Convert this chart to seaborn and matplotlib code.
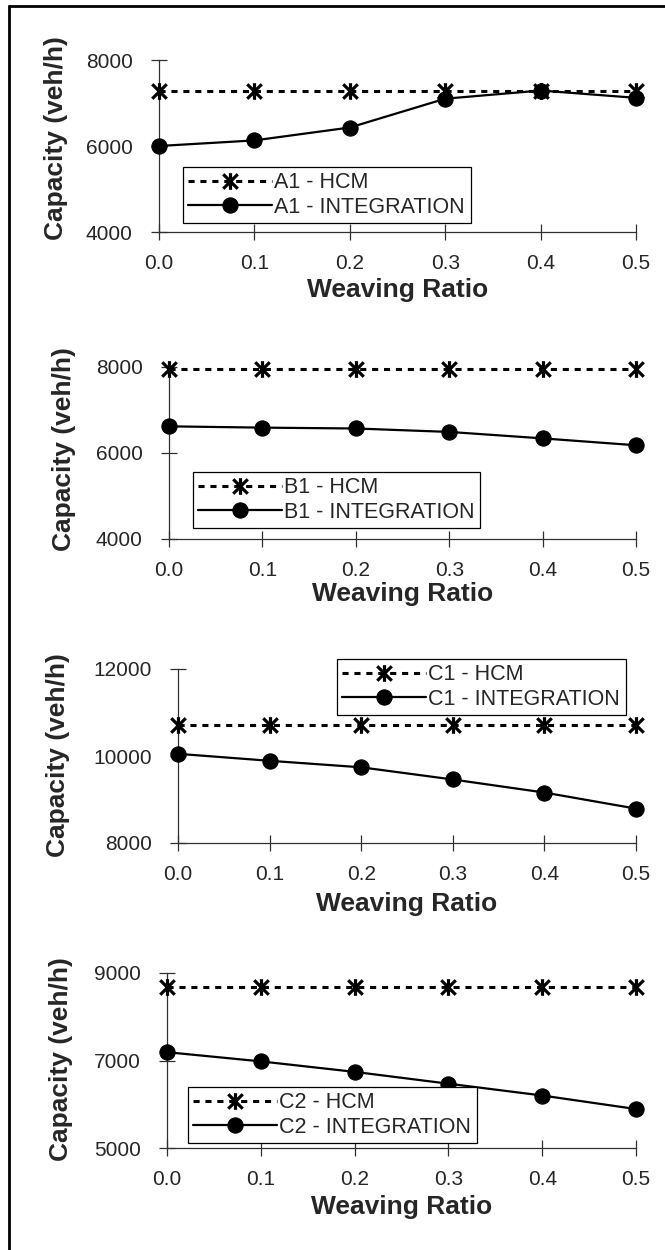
import matplotlib
matplotlib.use("Agg")
import matplotlib.pyplot as plt
from matplotlib.lines import Line2D
from matplotlib.path import Path
import seaborn as sns
import pandas as pd

# Weaving ratio on the x axis (shared by all four sections)
ratio = [0.0, 0.1, 0.2, 0.3, 0.4, 0.5]

# Capacity (veh/h) per weaving section: HCM estimate vs INTEGRATION simulation
a1_hcm = [7290, 7290, 7290, 7290, 7290, 7290]
a1_int = [6000, 6130, 6430, 7100, 7290, 7120]
b1_hcm = [7950, 7950, 7950, 7950, 7950, 7950]
b1_int = [6620, 6590, 6570, 6490, 6340, 6180]
c1_hcm = [10720, 10720, 10720, 10720, 10720, 10720]
c1_int = [10050, 9890, 9740, 9460, 9160, 8790]
c2_hcm = [8680, 8680, 8680, 8680, 8680, 8680]
c2_int = [7190, 6980, 6740, 6470, 6200, 5890]

sections = ["A1", "B1", "C1", "C2"]
hcm_series = [a1_hcm, b1_hcm, c1_hcm, c2_hcm]
int_series = [a1_int, b1_int, c1_int, c2_int]
y_limits = [(4000, 8000), (4000, 8000), (8000, 12000), (5000, 9000)]
y_ticks = [[4000, 6000, 8000], [4000, 6000, 8000], [8000, 10000, 12000], [5000, 7000, 9000]]
x_ticks = [0.0, 0.1, 0.2, 0.3, 0.4, 0.5]
x_ticklabels = ["0.0", "0.1", "0.2", "0.3", "0.4", "0.5"]

sns.set_style("white")
plt.rcParams["font.family"] = ["Liberation Sans", "DejaVu Sans"]

W, H = 665, 1250
fig = plt.figure(figsize=(W / 100, H / 100), dpi=100)

# panel boxes in pixels: left, right, top, bottom
boxes = [(159, 636, 60, 232), (169, 636, 367, 539), (178, 636, 669, 843), (167, 636, 973, 1148)]
# legend upper-left corners in pixels
legend_pos = [(183, 167), (193, 472), (337, 659), (188, 1087)]
# y-label right edge / centre, x-label top (pixels)
ylab_x = [68, 76, 70, 73]
ylab_y = [138, 449, 755, 1059]
xlab_y = [278, 582, 892, 1195]

DASH = (0, (2.0, 1.9))

# spreadsheet-style star: an X crossed by a vertical bar
STAR = Path([(-1, -1), (1, 1), (-1, 1), (1, -1), (0, -1.15), (0, 1.15)],
            [Path.MOVETO, Path.LINETO, Path.MOVETO, Path.LINETO, Path.MOVETO, Path.LINETO])


def fx(px):
    return px / W


def fy(py):
    return 1 - py / H


for i, name in enumerate(sections):
    l, r, t, b = boxes[i]
    ax = fig.add_axes([fx(l), fy(b), fx(r) - fx(l), fy(t) - fy(b)])
    df = pd.DataFrame({"ratio": ratio, "hcm": hcm_series[i], "sim": int_series[i]})

    sns.lineplot(data=df, x="ratio", y="hcm", ax=ax, color="black", lw=2.2,
                 marker=STAR, markersize=12, markeredgewidth=2.3,
                 markeredgecolor="black", label=f"{name} - HCM", clip_on=False)
    sns.lineplot(data=df, x="ratio", y="sim", ax=ax, color="black", lw=1.6,
                 marker="o", markersize=11, markeredgecolor="black",
                 markerfacecolor="black", label=f"{name} - INTEGRATION", clip_on=False)
    ax.lines[0].set_linestyle(DASH)
    ax.lines[0].set_zorder(3)
    ax.lines[1].set_zorder(4)

    ax.set_xlim(0, 0.5)
    ax.set_ylim(*y_limits[i])
    ax.set_xticks(x_ticks)
    ax.set_xticklabels(x_ticklabels)
    ax.set_yticks(y_ticks[i])
    ax.set_yticklabels([str(v) for v in y_ticks[i]])

    for side in ("top", "right"):
        ax.spines[side].set_visible(False)
    for side in ("left", "bottom"):
        ax.spines[side].set_color("#303030")
        ax.spines[side].set_linewidth(0.9)

    ax.tick_params(axis="x", direction="inout", length=11, width=0.9, color="#303030",
                   labelsize=15, pad=10.5, bottom=True)
    ax.tick_params(axis="y", direction="inout", length=11, width=0.9, color="#303030",
                   labelsize=15, pad=13.5, left=True)

    ax.set_xlabel("Weaving Ratio", fontsize=19, fontweight="bold")
    ax.set_ylabel("Capacity (veh/h)", fontsize=19, fontweight="bold")
    ax.xaxis.set_label_coords(fx((l + r) / 2), fy(xlab_y[i]), transform=fig.transFigure)
    ax.yaxis.set_label_coords(fx(ylab_x[i]), fy(ylab_y[i]), transform=fig.transFigure)

    lx, ly = legend_pos[i]
    leg = ax.legend(loc="upper left", bbox_to_anchor=(fx(lx), fy(ly)),
                    bbox_transform=fig.transFigure, borderaxespad=0,
                    fontsize=15.5, frameon=True, fancybox=False, framealpha=1,
                    edgecolor="black", handlelength=3.9, handletextpad=0.1,
                    labelspacing=0.15, borderpad=0.25, numpoints=1)
    leg.get_frame().set_linewidth(0.9)
    leg.set_zorder(10)
    leg.get_lines()[0].set_linestyle(DASH)

# outer frame: top and left edges
fig.add_artist(Line2D([fx(9), 1.0], [fy(6), fy(6)], color="black", lw=2.0,
                      transform=fig.transFigure))
fig.add_artist(Line2D([fx(9), fx(9)], [fy(6), 0.0], color="black", lw=2.0,
                      transform=fig.transFigure))

fig.savefig("out.png", dpi=100, facecolor="white")
